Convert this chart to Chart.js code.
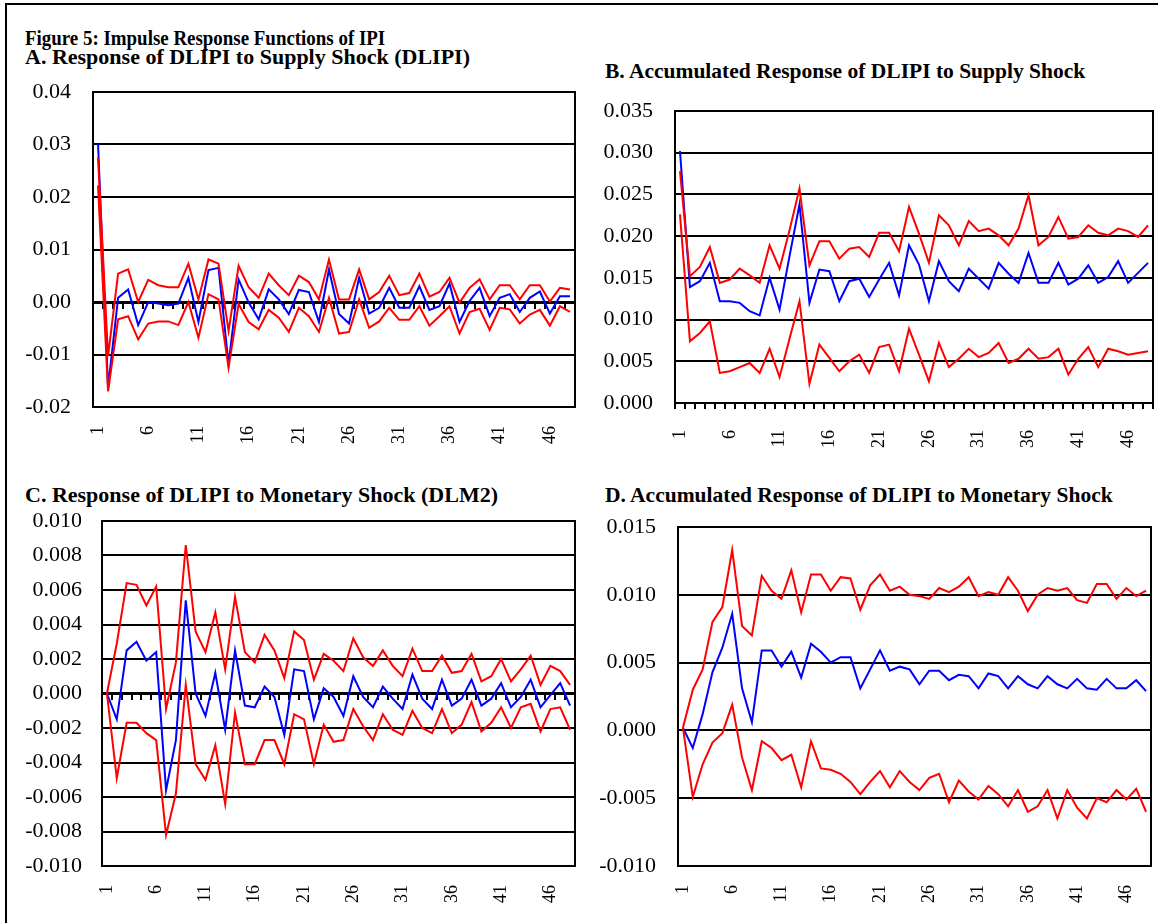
<!DOCTYPE html>
<html>
<head>
<meta charset="utf-8">
<title>Impulse Response Functions of IPI</title>
<script src="https://cdn.jsdelivr.net/npm/chart.js@4.4.1/dist/chart.umd.min.js"></script>
<style>
  body { margin: 0; background: #fff; }
  #page { position: relative; width: 1158px; height: 923px; overflow: hidden; background: #fff; }
  #frame { position: absolute; left: 5px; top: 3px; width: 1200px; height: 1000px; border: 2px solid #000; }
  .title { position: absolute; font-family: "Liberation Serif", "Times New Roman", serif; font-weight: bold;
           font-size: 22px; line-height: 22px; white-space: nowrap; color: #000; transform-origin: 0 0; }
  canvas { position: absolute; }
</style>
</head>
<body>
<div id="page">
  <div id="frame"></div>
  <div class="title" style="left:25px; top:27px; transform:scaleX(0.86);">Figure 5: Impulse Response Functions of IPI</div>
  <div class="title" style="left:25px; top:46px;">A. Response of DLIPI to Supply Shock (DLIPI)</div>
  <div class="title" style="left:605px; top:60px; font-size:21.5px;">B. Accumulated Response of DLIPI to Supply Shock</div>
  <div class="title" style="left:25px; top:484px;">C. Response of DLIPI to Monetary Shock (DLM2)</div>
  <div class="title" style="left:605px; top:484px; font-size:21.5px;">D. Accumulated Response of DLIPI to Monetary Shock</div>
  <canvas id="chartA" width="607" height="415" style="left:13px; top:52px;"></canvas>
  <canvas id="chartB" width="603" height="392" style="left:595px; top:71px;"></canvas>
  <canvas id="chartC" width="598" height="445" style="left:22px; top:481px;"></canvas>
  <canvas id="chartD" width="598" height="439" style="left:598px; top:487px;"></canvas>
</div>
<script>
// horizon (periods after the shock)
const periods = ['1','2','3','4','5','6','7','8','9','10','11','12','13','14','15','16',
  '17','18','19','20','21','22','23','24','25','26','27','28','29','30','31','32',
  '33','34','35','36','37','38','39','40','41','42','43','44','45','46','47','48'];

// A. response of DLIPI to supply shock
const supplyResp = [0.0302, -0.0163, 0.0008, 0.0024, -0.0044, 0.0000, -0.0003, -0.0006, -0.0003, 0.0046,
  -0.0038, 0.0061, 0.0065, -0.0119, 0.0043, -0.0001, -0.0033, 0.0024, 0.0005, -0.0023,
  0.0023, 0.0019, -0.0038, 0.0062, -0.0023, -0.0041, 0.0046, -0.0022, -0.0011, 0.0027,
  -0.0011, -0.0011, 0.0030, -0.0015, -0.0008, 0.0035, -0.0038, 0.0002, 0.0027, -0.0027,
  0.0008, 0.0015, -0.0019, 0.0008, 0.0020, -0.0022, 0.0011, 0.0011];
const supplyUpper = [0.0275, -0.0103, 0.0054, 0.0062, 0.0000, 0.0042, 0.0032, 0.0028, 0.0028, 0.0073,
  0.0005, 0.0081, 0.0073, -0.0055, 0.0069, 0.0028, 0.0008, 0.0054, 0.0032, 0.0013,
  0.0050, 0.0038, 0.0005, 0.0081, 0.0005, 0.0005, 0.0062, 0.0005, 0.0019, 0.0050,
  0.0013, 0.0017, 0.0054, 0.0010, 0.0019, 0.0046, -0.0001, 0.0027, 0.0043, 0.0005,
  0.0032, 0.0032, 0.0005, 0.0032, 0.0032, 0.0001, 0.0027, 0.0024];
const supplyLower = [0.0222, -0.0170, -0.0033, -0.0027, -0.0071, -0.0041, -0.0037, -0.0037, -0.0044, 0.0000,
  -0.0068, 0.0015, 0.0005, -0.0125, -0.0004, -0.0038, -0.0052, -0.0015, -0.0030, -0.0057,
  -0.0011, -0.0027, -0.0057, 0.0008, -0.0060, -0.0057, 0.0005, -0.0049, -0.0037, -0.0011,
  -0.0034, -0.0034, -0.0008, -0.0045, -0.0027, -0.0008, -0.0060, -0.0019, -0.0013, -0.0053,
  -0.0011, -0.0014, -0.0041, -0.0024, -0.0015, -0.0045, -0.0008, -0.0019];

// B. accumulated response to supply shock
const supplyAccResp = [0.0302, 0.0139, 0.0146, 0.0168, 0.0122, 0.0122, 0.0120, 0.0110, 0.0105, 0.0150,
  0.0112, 0.0176, 0.0238, 0.0120, 0.0160, 0.0158, 0.0122, 0.0146, 0.0149, 0.0127,
  0.0148, 0.0168, 0.0129, 0.0189, 0.0166, 0.0122, 0.0170, 0.0146, 0.0134, 0.0161,
  0.0149, 0.0137, 0.0168, 0.0155, 0.0144, 0.0180, 0.0144, 0.0144, 0.0168, 0.0142,
  0.0149, 0.0165, 0.0144, 0.0151, 0.0170, 0.0144, 0.0156, 0.0168];
const supplyAccUpper = [0.0278, 0.0152, 0.0163, 0.0187, 0.0144, 0.0148, 0.0161, 0.0153, 0.0144, 0.0189,
  0.0161, 0.0207, 0.0257, 0.0165, 0.0194, 0.0194, 0.0173, 0.0185, 0.0187, 0.0175,
  0.0204, 0.0204, 0.0182, 0.0235, 0.0203, 0.0168, 0.0225, 0.0213, 0.0189, 0.0218,
  0.0206, 0.0209, 0.0201, 0.0189, 0.0209, 0.0249, 0.0189, 0.0199, 0.0223, 0.0197,
  0.0199, 0.0213, 0.0204, 0.0201, 0.0209, 0.0206, 0.0199, 0.0213];
const supplyAccLower = [0.0226, 0.0074, 0.0084, 0.0098, 0.0036, 0.0038, 0.0043, 0.0048, 0.0036, 0.0065,
  0.0031, 0.0077, 0.0122, 0.0023, 0.0070, 0.0054, 0.0038, 0.0050, 0.0058, 0.0036,
  0.0067, 0.0070, 0.0038, 0.0089, 0.0058, 0.0026, 0.0072, 0.0043, 0.0053, 0.0065,
  0.0055, 0.0060, 0.0072, 0.0048, 0.0053, 0.0065, 0.0053, 0.0055, 0.0065, 0.0034,
  0.0053, 0.0067, 0.0043, 0.0065, 0.0062, 0.0058, 0.0060, 0.0062];

// C. response to monetary shock
const moneyResp = [0.0000, -0.0015, 0.0025, 0.0030, 0.0019, 0.0024, -0.0056, -0.0027, 0.0054, 0.0000,
  -0.0013, 0.0012, -0.0021, 0.0025, -0.0007, -0.0008, 0.0004, -0.0002, -0.0024, 0.0014,
  0.0013, -0.0015, 0.0003, -0.0002, -0.0013, 0.0010, -0.0002, -0.0008, 0.0004, -0.0003,
  -0.0009, 0.0011, -0.0003, -0.0009, 0.0008, -0.0007, -0.0003, 0.0008, -0.0007, -0.0003,
  0.0006, -0.0008, -0.0002, 0.0008, -0.0008, -0.0001, 0.0006, -0.0007];
const moneyUpper = [0.0000, 0.0029, 0.0064, 0.0063, 0.0051, 0.0062, -0.0009, 0.0018, 0.0086, 0.0036,
  0.0024, 0.0047, 0.0014, 0.0056, 0.0024, 0.0018, 0.0034, 0.0025, 0.0009, 0.0036,
  0.0031, 0.0008, 0.0023, 0.0019, 0.0013, 0.0032, 0.0021, 0.0016, 0.0025, 0.0016,
  0.0010, 0.0026, 0.0013, 0.0013, 0.0022, 0.0012, 0.0013, 0.0023, 0.0007, 0.0010,
  0.0020, 0.0007, 0.0014, 0.0022, 0.0005, 0.0016, 0.0013, 0.0005];
const moneyLower = [0.0000, -0.0049, -0.0017, -0.0017, -0.0023, -0.0027, -0.0082, -0.0058, 0.0005, -0.0041,
  -0.0050, -0.0030, -0.0064, -0.0011, -0.0041, -0.0041, -0.0027, -0.0027, -0.0041, -0.0012,
  -0.0015, -0.0041, -0.0018, -0.0028, -0.0027, -0.0009, -0.0019, -0.0027, -0.0012, -0.0021,
  -0.0024, -0.0010, -0.0020, -0.0023, -0.0009, -0.0023, -0.0018, -0.0005, -0.0022, -0.0017,
  -0.0008, -0.0020, -0.0008, -0.0006, -0.0022, -0.0009, -0.0008, -0.0021];

// D. accumulated response to monetary shock
const moneyAccResp = [0.0002, -0.0013, 0.0012, 0.0043, 0.0061, 0.0086, 0.0031, 0.0006, 0.0059, 0.0059,
  0.0047, 0.0058, 0.0039, 0.0064, 0.0058, 0.0050, 0.0054, 0.0054, 0.0031, 0.0045,
  0.0059, 0.0044, 0.0047, 0.0045, 0.0034, 0.0044, 0.0044, 0.0037, 0.0041, 0.0040,
  0.0031, 0.0042, 0.0040, 0.0031, 0.0040, 0.0034, 0.0031, 0.0040, 0.0034, 0.0031,
  0.0038, 0.0031, 0.0030, 0.0038, 0.0031, 0.0031, 0.0037, 0.0029];
const moneyAccUpper = [0.0002, 0.0030, 0.0045, 0.0080, 0.0091, 0.0133, 0.0077, 0.0070, 0.0114, 0.0103,
  0.0097, 0.0118, 0.0087, 0.0115, 0.0115, 0.0103, 0.0113, 0.0112, 0.0089, 0.0107,
  0.0115, 0.0103, 0.0106, 0.0100, 0.0099, 0.0097, 0.0105, 0.0102, 0.0106, 0.0113,
  0.0099, 0.0102, 0.0100, 0.0113, 0.0103, 0.0088, 0.0100, 0.0105, 0.0103, 0.0105,
  0.0096, 0.0094, 0.0108, 0.0108, 0.0097, 0.0105, 0.0099, 0.0103];
const moneyAccLower = [0.0002, -0.0049, -0.0025, -0.0009, -0.0002, 0.0019, -0.0020, -0.0044, -0.0008, -0.0013,
  -0.0022, -0.0018, -0.0042, -0.0008, -0.0028, -0.0029, -0.0032, -0.0038, -0.0047, -0.0038,
  -0.0030, -0.0042, -0.0030, -0.0038, -0.0044, -0.0035, -0.0032, -0.0053, -0.0037, -0.0045,
  -0.0051, -0.0041, -0.0047, -0.0056, -0.0044, -0.0060, -0.0056, -0.0044, -0.0065, -0.0044,
  -0.0057, -0.0065, -0.0050, -0.0053, -0.0044, -0.0051, -0.0043, -0.0060];

const FONT = '"Liberation Serif", "Times New Roman", serif';
const Y_AXIS_W = 80;
const X_AXIS_H = 60;

// closes the plot box on the top/right sides
const plotFrame = {
  id: 'plotFrame',
  beforeDatasetsDraw(chart) {
    const { ctx, chartArea: a } = chart;
    ctx.save();
    ctx.strokeStyle = '#000';
    ctx.lineWidth = 2;
    ctx.strokeRect(a.left, a.top, a.right - a.left, a.bottom - a.top);
    ctx.restore();
  }
};

function line(data, color) {
  return { data, borderColor: color, borderWidth: 2, pointRadius: 0, tension: 0, fill: false };
}

function makePanel(id, p) {
  const scales = {
    x: {
      type: 'category',
      offset: true,
      grid: { display: p.bottomTicks, drawOnChartArea: false, drawTicks: p.bottomTicks, tickLength: 6,
              color: '#000', lineWidth: 2, offset: true },
      border: { display: true, color: '#000', width: 2 },
      ticks: {
        autoSkip: false, minRotation: 90, maxRotation: 90, padding: p.xPad,
        color: '#000', font: { family: FONT, size: 18 },
        callback: (v, i) => (i % 5 === 0 ? periods[i] : '')
      },
      afterFit: s => { s.height = X_AXIS_H; }
    },
    y: {
      type: 'linear',
      min: p.min, max: p.max,
      ticks: { stepSize: p.step, padding: p.yPad, color: '#000', font: { family: FONT, size: 22 },
               callback: v => v.toFixed(p.dec) },
      grid: { color: '#000', lineWidth: 2, drawTicks: false },
      border: { display: true, color: '#000', width: 2 },
      afterFit: s => { s.width = Y_AXIS_W; }
    }
  };
  if (p.zeroTicks) {
    // category axis sitting on y = 0: heavy zero line with small tick marks
    scales.x2 = {
      type: 'category',
      position: { y: 0 },
      offset: true,
      grid: { drawOnChartArea: false, drawTicks: true, tickLength: 5, color: '#000', lineWidth: 2, offset: true },
      border: { display: true, color: '#000', width: 3 },
      ticks: { display: false },
      afterFit: s => { s.height = 0; }
    };
  }
  return new Chart(document.getElementById(id), {
    type: 'line',
    data: {
      labels: periods,
      datasets: [line(p.upper, '#ff0000'), line(p.lower, '#ff0000'), line(p.resp, '#0000ff')]
    },
    options: {
      responsive: false,
      animation: false,
      devicePixelRatio: 1,
      layout: { padding: { top: 40, right: 45, bottom: 0, left: 0 } },
      plugins: { legend: { display: false }, tooltip: { enabled: false } },
      scales
    },
    plugins: [plotFrame]
  });
}

makePanel('chartA', { resp: supplyResp, upper: supplyUpper, lower: supplyLower,
  min: -0.02, max: 0.04, step: 0.01, dec: 2, yPad: 22, xPad: 19, zeroTicks: true, bottomTicks: false });
makePanel('chartB', { resp: supplyAccResp, upper: supplyAccUpper, lower: supplyAccLower,
  min: 0, max: 0.035, step: 0.005, dec: 3, yPad: 22, xPad: 21, zeroTicks: false, bottomTicks: true });
makePanel('chartC', { resp: moneyResp, upper: moneyUpper, lower: moneyLower,
  min: -0.01, max: 0.01, step: 0.002, dec: 3, yPad: 20, xPad: 19, zeroTicks: true, bottomTicks: false });
makePanel('chartD', { resp: moneyAccResp, upper: moneyAccUpper, lower: moneyAccLower,
  min: -0.01, max: 0.015, step: 0.005, dec: 3, yPad: 22, xPad: 19, zeroTicks: false, bottomTicks: false });
</script>
</body>
</html>
